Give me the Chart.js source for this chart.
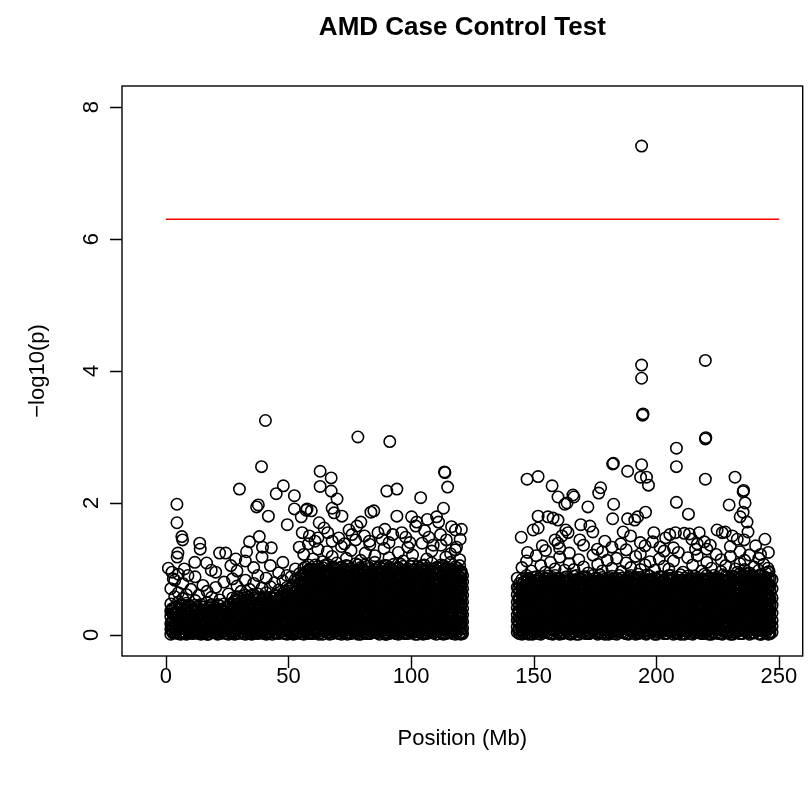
<!DOCTYPE html>
<html>
<head>
<meta charset="utf-8">
<script src="https://cdn.jsdelivr.net/npm/chart.js@4.4.0/dist/chart.umd.min.js"></script>
<style>
html, body { margin: 0; padding: 0; background: #fff; }
</style>
</head>
<body>
<canvas id="gwas" width="810" height="786"></canvas>
<script>
const chartTitle = "AMD Case Control Test";
const xTitle = "Position (Mb)";
const yTitle = "\u2212log10(p)";
const xTicks = [0, 50, 100, 150, 200, 250];
const yTicks = [0, 2, 4, 6, 8];
// genome-wide threshold, drawn from 0 to 250 Mb
const threshold = 6.3;
const thresholdSpan = [0, 250];

// [position Mb, -log10(p) of the SNPs around it]
const pArmStart = [
  [2.0,[.01,.09,.17,.28,.36,.47,.7]],
  [3.6,[.04,.12,.22,.3,.41,.58,.83]],
  [5.1,[.02,.08,.19,.26,.39,.5,.64,.92]],
  [6.9,[.05,.13,.21,.33,.44,.55,.78]],
  [8.4,[.01,.1,.18,.29,.37,.48,.61]],
  [10.2,[.03,.11,.24,.32,.43,.69]],
  [11.9,[.06,.14,.2,.35,.45,.52,.88]],
  [13.4,[.02,.09,.17,.27,.4,.6]],
  [15.1,[.04,.12,.23,.31,.42,.75]],
  [16.8,[.01,.1,.19,.3,.38,.49,.66]],
  [18.6,[.05,.15,.22,.34,.46,.57]],
  [20.3,[.03,.08,.18,.26,.41,.72,.95]],
  [22.0,[.02,.11,.2,.33,.44,.53]],
  [23.7,[.06,.13,.25,.36,.47,.8]],
  [25.5,[.01,.09,.17,.29,.4,.62]],
  [27.2,[.04,.12,.21,.32,.43,.56,.85]],
  [29.0,[.02,.1,.19,.27,.38,.47,.58,.74,.97]],
  [30.7,[.05,.13,.22,.31,.42,.51,.66]],
  [32.4,[.01,.09,.18,.29,.36,.48,.6,.83,1.12]],
  [34.1,[.03,.12,.2,.3,.4,.53,.69]],
  [35.8,[.06,.14,.24,.33,.44,.56,.78,1.02]],
  [37.5,[.02,.08,.17,.26,.37,.49,.62,.9]],
  [39.2,[.04,.11,.21,.32,.41,.52,.71,1.18]],
  [40.9,[.01,.1,.19,.28,.39,.5,.64,.86]],
  [42.6,[.05,.15,.23,.34,.45,.57,.73,1.05]],
  [44.3,[.03,.09,.18,.27,.38,.48,.6,.79]],
  [46.0,[.02,.12,.22,.31,.42,.54,.68,.94]],
  [47.7,[.06,.14,.2,.3,.4,.51,.63,.82,1.1]],
  [49.4,[.01,.08,.17,.29,.37,.47,.59,.72,.9]],
  [51.1,[.04,.11,.21,.33,.43,.55,.67,.88]],
  [52.8,[.02,.1,.19,.26,.36,.46,.58,.7,.84,1.0]],
  [54.5,[.05,.13,.24,.32,.41,.52,.64,.77,.93]]
];

const pArmFill = [
  [2.8,[.03,.12,.21,.32,.4]],
  [4.4,[.06,.15,.25,.34,.43]],
  [6.0,[.01,.11,.2,.29,.41]],
  [7.7,[.03,.09,.16,.25,.37]],
  [9.3,[.05,.14,.22,.34,.45]],
  [11.0,[.02,.07,.17,.28,.39]],
  [12.6,[.04,.11,.24,.31,.42]],
  [14.3,[.01,.06,.14,.23,.35,.46]],
  [15.9,[.03,.08,.18,.27,.36]],
  [17.7,[.02,.13,.24,.33,.43]],
  [19.4,[.06,.11,.2,.29,.38]],
  [21.1,[.01,.05,.14,.23,.31,.46]],
  [22.8,[.04,.08,.16,.27,.39]],
  [24.6,[.02,.1,.21,.32,.42]],
  [26.3,[.05,.14,.24,.35,.47]],
  [28.1,[.01,.07,.16,.24,.34,.43,.52]],
  [29.8,[.03,.09,.17,.26,.36,.47,.55]],
  [31.5,[.02,.11,.16,.25,.34,.45,.56]],
  [33.2,[.05,.14,.24,.33,.44,.57]],
  [35.0,[.01,.09,.18,.28,.37,.48,.6]],
  [36.6,[.03,.11,.21,.3,.41,.53]],
  [38.3,[.06,.13,.23,.34,.44,.56]],
  [40.0,[.02,.07,.15,.24,.35,.46,.58]],
  [41.7,[.04,.12,.21,.31,.42,.53]],
  [43.4,[.01,.08,.14,.24,.33,.44,.55]],
  [45.2,[.03,.1,.17,.26,.37,.48,.59]],
  [46.8,[.05,.09,.18,.27,.36,.46,.57]],
  [48.5,[.02,.12,.21,.33,.43,.54,.66]],
  [50.2,[.06,.14,.25,.35,.45,.58,.7]],
  [52.0,[.01,.07,.15,.23,.31,.41,.52,.63,.76]],
  [53.7,[.03,.09,.18,.28,.38,.49,.6,.71,.82]],
  [55.3,[.02,.11,.2,.3,.4,.5,.6,.7,.8,.9]]
];

const pArmExtra = [
  [2.4,[.06,.2,.39]],[4.0,[.03,.17,.33]],[5.6,[.09,.24,.45]],[7.3,[.02,.19,.31]],
  [8.9,[.07,.23,.4]],[10.6,[.04,.16,.36]],[12.3,[.1,.27,.38]],[13.9,[.03,.2,.33]],
  [15.6,[.08,.16,.37]],[17.3,[.01,.22,.41]],[19.0,[.09,.25,.33]],[20.7,[.04,.19,.36]],
  [22.4,[.07,.24,.39]],[24.1,[.03,.15,.35]],[25.9,[.1,.21,.3]],[27.6,[.05,.18,.38,.5]],
  [29.4,[.08,.23,.31,.52]],[31.1,[.04,.19,.38,.47]],[32.8,[.07,.14,.35,.53]],[34.5,[.02,.25,.34,.5]],
  [36.2,[.09,.18,.39,.6]],[37.9,[.04,.21,.3,.45]],[39.6,[.07,.16,.37,.55]],[41.3,[.02,.24,.33,.47]],
  [43.0,[.1,.19,.4,.51]],[44.7,[.05,.14,.33,.56]],[46.4,[.08,.25,.35,.5]],[48.1,[.03,.17,.38,.6]],
  [49.8,[.07,.21,.31,.53]],[51.5,[.02,.16,.38,.49,.74]],[53.2,[.09,.22,.34,.55,.66]]
];

const armEnd = [
  [56.2,[.01,.08,.15,.23,.3,.38,.45,.53,.61,.68,.76,.84,.92,1.01,1.22]],
  [58.1,[.03,.11,.18,.26,.34,.41,.49,.56,.64,.72,.8,.88,.97,1.06,1.38]],
  [60.0,[.02,.07,.14,.21,.29,.37,.44,.52,.59,.67,.75,.83,.9,.99,1.15]],
  [62.0,[.05,.12,.2,.27,.35,.43,.5,.58,.66,.73,.81,.89,.96,1.04,1.3,1.47]],
  [63.9,[.01,.09,.16,.24,.31,.39,.47,.54,.62,.7,.77,.85,.93,1.02,1.11]],
  [65.8,[.04,.1,.19,.25,.33,.4,.48,.57,.63,.71,.79,.86,.95,1.07,1.26]],
  [67.8,[.02,.08,.15,.22,.3,.38,.46,.53,.6,.69,.76,.84,.91,1.0,1.19,1.42]],
  [69.7,[.06,.13,.2,.28,.36,.42,.51,.59,.65,.74,.82,.9,.98,1.09]],
  [71.6,[.01,.07,.17,.24,.32,.4,.47,.55,.62,.7,.78,.85,.94,1.03,1.34]],
  [73.6,[.03,.11,.18,.26,.34,.41,.49,.57,.64,.72,.8,.87,.96,1.05,1.16]],
  [75.5,[.02,.09,.14,.23,.29,.37,.45,.52,.6,.67,.75,.83,.92,1.0,1.28]],
  [77.4,[.05,.12,.21,.27,.35,.43,.5,.58,.66,.73,.81,.89,.97,1.08,1.44]],
  [79.4,[.01,.08,.16,.24,.31,.39,.46,.54,.61,.69,.77,.86,.93,1.02,1.13]],
  [81.3,[.04,.1,.19,.25,.33,.42,.48,.56,.63,.71,.79,.88,.95,1.06,1.24]],
  [83.2,[.02,.07,.15,.22,.3,.38,.45,.53,.6,.68,.76,.84,.91,1.01,1.37]],
  [85.2,[.06,.13,.2,.28,.36,.44,.51,.59,.67,.74,.82,.9,.99,1.1,1.2]],
  [87.1,[.01,.09,.17,.23,.32,.4,.47,.55,.62,.7,.78,.85,.94,1.03]],
  [89.0,[.03,.11,.18,.26,.34,.41,.49,.57,.64,.72,.8,.87,.96,1.05,1.31]],
  [91.0,[.02,.08,.14,.21,.29,.37,.44,.52,.59,.67,.75,.83,.9,.99,1.17,1.4]],
  [92.9,[.05,.12,.2,.27,.35,.43,.5,.58,.66,.73,.81,.89,.97,1.07]],
  [94.8,[.01,.07,.16,.24,.31,.39,.47,.54,.62,.7,.77,.85,.93,1.02,1.25]],
  [96.8,[.04,.1,.19,.25,.33,.4,.48,.56,.63,.71,.79,.86,.95,1.04,1.12]],
  [98.7,[.02,.09,.15,.22,.3,.38,.46,.53,.6,.69,.76,.84,.91,1.0,1.33]],
  [100.6,[.06,.13,.21,.28,.36,.42,.51,.59,.65,.74,.82,.9,.98,1.08,1.21]],
  [102.6,[.01,.08,.17,.24,.32,.4,.47,.55,.62,.7,.78,.85,.94,1.03]],
  [104.5,[.03,.11,.18,.26,.34,.41,.49,.57,.64,.72,.8,.87,.96,1.05,1.39]],
  [106.4,[.02,.07,.14,.23,.29,.37,.45,.52,.6,.67,.75,.83,.92,1.01,1.15]],
  [108.4,[.05,.12,.2,.27,.35,.43,.5,.58,.66,.73,.81,.89,.97,1.09,1.27]],
  [110.3,[.01,.09,.16,.24,.31,.39,.46,.54,.61,.69,.77,.86,.93,1.02]],
  [112.2,[.04,.1,.19,.25,.33,.42,.48,.56,.63,.71,.79,.88,.95,1.06,1.36]],
  [114.2,[.02,.08,.15,.22,.3,.38,.45,.53,.6,.68,.76,.84,.91,1.0,1.18]],
  [116.1,[.06,.13,.2,.28,.36,.44,.51,.59,.67,.74,.82,.9,.99,1.1,1.23]],
  [118.0,[.01,.07,.17,.23,.32,.4,.47,.55,.62,.7,.78,.85,.94,1.03,1.29]],
  [119.8,[.03,.11,.18,.26,.34,.41,.49,.57,.64,.72,.8,.87,.96,1.05,1.14]],
  [121.0,[.02,.1,.2,.3,.4,.5,.6,.7,.8,.9]]
];

const armEndFill = [
  [57.1,[.04,.11,.19,.26,.34,.42,.49,.57,.65,.72,.8,.88,.95,1.03]],
  [59.0,[.02,.12,.21,.28,.36,.44,.51,.6,.67,.75,.83,.9,.98]],
  [61.0,[.05,.1,.18,.25,.33,.41,.48,.56,.64,.71,.79,.87,.94,1.06]],
  [62.9,[.03,.14,.22,.3,.37,.45,.53,.61,.69,.77,.84,.92,1.0]],
  [64.8,[.06,.12,.2,.27,.35,.43,.5,.59,.66,.74,.81,.89,.97,1.05]],
  [66.8,[.01,.11,.17,.26,.34,.41,.49,.56,.65,.72,.8,.88,.95]],
  [68.7,[.04,.1,.19,.24,.32,.4,.48,.55,.63,.71,.79,.86,.94,1.02]],
  [70.6,[.02,.12,.22,.29,.37,.46,.53,.61,.68,.76,.84,.92,1.01]],
  [72.6,[.05,.14,.2,.27,.36,.44,.52,.6,.67,.75,.83,.91,.99]],
  [74.5,[.03,.11,.19,.25,.33,.41,.49,.56,.64,.7,.78,.86,.94,1.04]],
  [76.4,[.06,.1,.17,.24,.32,.4,.48,.55,.62,.71,.79,.87,.96]],
  [78.4,[.01,.12,.2,.28,.37,.45,.52,.6,.68,.76,.83,.91,.98,1.06]],
  [80.3,[.04,.13,.21,.29,.36,.43,.51,.59,.67,.74,.82,.9,1.0]],
  [82.2,[.02,.11,.18,.26,.34,.42,.5,.57,.65,.73,.8,.87,.95,1.04]],
  [84.2,[.05,.1,.17,.25,.33,.41,.49,.56,.64,.72,.79,.86,.94]],
  [86.1,[.03,.12,.21,.28,.36,.44,.52,.6,.68,.76,.84,.92,1.01]],
  [88.0,[.06,.14,.22,.3,.38,.45,.53,.61,.69,.77,.85,.93,1.0]],
  [90.0,[.01,.11,.19,.26,.34,.42,.5,.57,.65,.73,.81,.88,.96,1.05]],
  [91.9,[.04,.1,.18,.25,.33,.41,.49,.56,.63,.71,.79,.87,.95]],
  [93.8,[.02,.12,.21,.29,.37,.45,.52,.6,.68,.76,.84,.92,1.0]],
  [95.8,[.05,.14,.22,.3,.38,.46,.53,.61,.69,.77,.84,.91,.99,1.07]],
  [97.7,[.03,.11,.19,.27,.35,.43,.51,.58,.66,.74,.82,.89,.97]],
  [99.6,[.06,.1,.18,.26,.34,.42,.5,.57,.64,.72,.8,.88,.96,1.04]],
  [101.6,[.01,.12,.2,.28,.36,.44,.52,.6,.68,.75,.83,.91,.99]],
  [103.5,[.04,.13,.21,.29,.37,.45,.53,.61,.69,.77,.85,.93,1.01]],
  [105.4,[.02,.11,.19,.26,.34,.42,.5,.58,.65,.73,.81,.89,.97,1.06]],
  [107.4,[.05,.1,.18,.25,.33,.41,.49,.57,.64,.71,.79,.87,.95]],
  [109.3,[.03,.12,.21,.29,.37,.45,.52,.6,.68,.76,.84,.92,1.0]],
  [111.2,[.06,.14,.22,.3,.38,.46,.54,.62,.7,.78,.85,.93,1.02]],
  [113.2,[.01,.11,.19,.27,.35,.43,.51,.59,.66,.74,.82,.9,.98,1.05]],
  [115.1,[.04,.1,.18,.26,.34,.42,.5,.58,.65,.73,.81,.89,.97]],
  [117.0,[.02,.12,.2,.28,.36,.44,.52,.6,.68,.76,.84,.92,1.0]],
  [118.9,[.05,.13,.21,.29,.37,.45,.53,.61,.69,.77,.85,.93,1.01]],
  [120.5,[.03,.09,.17,.25,.35,.46,.55,.66,.76,.86,.96]]
];

const armEndExtra = [
  [56.7,[.05,.18,.27,.46,.6,.79,.93]],
  [58.6,[.02,.14,.33,.47,.63,.74,1.0]],
  [60.5,[.09,.24,.39,.5,.7,.86]],
  [62.4,[.01,.16,.31,.55,.62,.8,.98]],
  [64.3,[.07,.21,.29,.44,.68,.83]],
  [66.3,[.04,.13,.36,.51,.58,.77,.92]],
  [68.2,[.1,.23,.34,.49,.66,.87,1.03]],
  [70.1,[.03,.17,.26,.43,.6,.73,.9]],
  [72.1,[.08,.2,.37,.54,.65,.82]],
  [74.0,[.01,.15,.3,.46,.61,.78,.97]],
  [75.9,[.06,.22,.35,.48,.69,.8]],
  [77.9,[.03,.14,.28,.41,.57,.72,.94]],
  [79.8,[.09,.19,.33,.52,.64,.85,1.0]],
  [81.7,[.02,.16,.27,.45,.59,.76]],
  [83.7,[.07,.23,.38,.5,.67,.81,.96]],
  [85.6,[.04,.13,.31,.42,.6,.75,.88]],
  [87.5,[.1,.2,.36,.55,.71,.84]],
  [89.5,[.01,.17,.29,.47,.62,.79,.93]],
  [91.4,[.06,.24,.33,.51,.66,.78,1.02]],
  [93.3,[.03,.15,.27,.44,.58,.73,.89]],
  [95.3,[.08,.21,.39,.49,.69,.83]],
  [97.2,[.02,.14,.32,.46,.61,.77,.97]],
  [99.1,[.07,.19,.28,.53,.64,.8,.91]],
  [101.1,[.04,.16,.35,.48,.7,.86]],
  [103.0,[.09,.22,.3,.43,.59,.74,.95]],
  [104.9,[.01,.13,.37,.52,.65,.82,.99]],
  [106.9,[.06,.2,.33,.47,.6,.76,.9]],
  [108.8,[.03,.18,.26,.41,.68,.79]],
  [110.7,[.1,.23,.38,.54,.63,.85,.97]],
  [112.7,[.02,.15,.29,.45,.57,.72,.88]],
  [114.6,[.07,.21,.34,.5,.66,.81,1.01]],
  [116.5,[.04,.17,.3,.43,.61,.78,.92]],
  [118.5,[.08,.14,.36,.52,.69,.84]],
  [120.3,[.01,.19,.27,.45,.58,.74,.93]]
];

const qArm = [
  [143.3,[.04,.12,.22,.3,.41,.5,.61,.72,.86]],
  [145.2,[.01,.08,.15,.23,.3,.38,.45,.53,.61,.68,.76,.84,1.02]],
  [147.1,[.03,.11,.18,.26,.34,.41,.49,.56,.64,.72,.8,.9,1.12]],
  [149.0,[.02,.07,.14,.21,.29,.37,.44,.52,.59,.67,.75,.83,.97]],
  [151.0,[.05,.12,.2,.27,.35,.43,.5,.58,.66,.73,.81,.88,1.2]],
  [152.9,[.01,.09,.16,.24,.31,.39,.47,.54,.62,.7,.77,.85,1.05]],
  [154.8,[.04,.1,.19,.25,.33,.4,.48,.57,.63,.71,.79,.86,.95,1.28]],
  [156.8,[.02,.08,.15,.22,.3,.38,.46,.53,.6,.69,.76,.84,1.1]],
  [158.7,[.06,.13,.2,.28,.36,.42,.51,.59,.65,.74,.82,.9,1.0]],
  [160.6,[.01,.07,.17,.24,.32,.4,.47,.55,.62,.7,.78,.85,1.18,1.31]],
  [162.6,[.03,.11,.18,.26,.34,.41,.49,.57,.64,.72,.8,.87,.98]],
  [164.5,[.02,.09,.14,.23,.29,.37,.45,.52,.6,.67,.75,.83,1.08,1.24]],
  [166.4,[.05,.12,.21,.27,.35,.43,.5,.58,.66,.73,.81,.89,.99]],
  [168.4,[.01,.08,.16,.24,.31,.39,.46,.54,.61,.69,.77,.86,1.14]],
  [170.3,[.04,.1,.19,.25,.33,.42,.48,.56,.63,.71,.79,.88,1.03,1.36]],
  [172.2,[.02,.07,.15,.22,.3,.38,.45,.53,.6,.68,.76,.84,.94]],
  [174.2,[.06,.13,.2,.28,.36,.44,.51,.59,.67,.74,.82,.9,1.21]],
  [176.1,[.01,.09,.17,.23,.32,.4,.47,.55,.62,.7,.78,.85,1.07]],
  [178.0,[.03,.11,.18,.26,.34,.41,.49,.57,.64,.72,.8,.87,.97,1.26]],
  [180.0,[.02,.08,.14,.21,.29,.37,.44,.52,.59,.67,.75,.83,1.13]],
  [181.9,[.05,.12,.2,.27,.35,.43,.5,.58,.66,.73,.81,.89,1.01,1.33]],
  [183.8,[.01,.07,.16,.24,.31,.39,.47,.54,.62,.7,.77,.85,1.16]],
  [185.8,[.04,.1,.19,.25,.33,.4,.48,.56,.63,.71,.79,.86,.96]],
  [187.7,[.02,.09,.15,.22,.3,.38,.46,.53,.6,.69,.76,.84,1.09,1.29]],
  [189.6,[.06,.13,.21,.28,.36,.42,.51,.59,.65,.74,.82,.9,1.02]],
  [191.6,[.01,.08,.17,.24,.32,.4,.47,.55,.62,.7,.78,.85,1.19]],
  [193.5,[.03,.11,.18,.26,.34,.41,.49,.57,.64,.72,.8,.87,.99,1.23,1.4]],
  [195.4,[.02,.07,.14,.23,.29,.37,.45,.52,.6,.67,.75,.83,1.06,1.35]],
  [197.4,[.05,.12,.2,.27,.35,.43,.5,.58,.66,.73,.81,.89,1.11]],
  [199.3,[.01,.09,.16,.24,.31,.39,.46,.54,.61,.69,.77,.86,.98]],
  [201.2,[.04,.1,.19,.25,.33,.42,.48,.56,.63,.71,.79,.88,1.15]],
  [203.2,[.02,.08,.15,.22,.3,.38,.45,.53,.6,.68,.76,.84,1.04,1.27]],
  [205.1,[.06,.13,.2,.28,.36,.44,.51,.59,.67,.74,.82,.9,1.0]],
  [207.0,[.01,.07,.17,.23,.32,.4,.47,.55,.62,.7,.78,.85,1.12,1.32]],
  [209.0,[.03,.11,.18,.26,.34,.41,.49,.57,.64,.72,.8,.87,1.25]],
  [210.9,[.02,.09,.14,.21,.29,.37,.44,.52,.59,.67,.75,.83,.95]],
  [212.8,[.05,.12,.2,.27,.35,.43,.5,.58,.66,.73,.81,.89,1.17]],
  [214.8,[.01,.08,.16,.24,.31,.39,.47,.54,.62,.7,.77,.85,1.06]],
  [216.7,[.04,.1,.19,.25,.33,.4,.48,.56,.63,.71,.79,.86,1.2,1.38]],
  [218.6,[.02,.07,.15,.22,.3,.38,.46,.53,.6,.69,.76,.84,.97]],
  [220.6,[.06,.13,.21,.28,.36,.42,.51,.59,.65,.74,.82,.9,1.1,1.3]],
  [222.5,[.01,.09,.17,.24,.32,.4,.47,.55,.62,.7,.78,.85,1.01]],
  [224.4,[.03,.11,.18,.26,.34,.41,.49,.57,.64,.72,.8,.87,1.22]],
  [226.4,[.02,.08,.14,.23,.29,.37,.45,.52,.6,.67,.75,.83,.96,1.14]],
  [228.3,[.05,.12,.2,.27,.35,.43,.5,.58,.66,.73,.81,.89,1.05]],
  [230.2,[.01,.07,.16,.24,.31,.39,.46,.54,.61,.69,.77,.86,1.19,1.34]],
  [232.2,[.04,.1,.19,.25,.33,.42,.48,.56,.63,.71,.79,.88,1.0]],
  [234.1,[.02,.09,.15,.22,.3,.38,.45,.53,.6,.68,.76,.84,.93,1.08,1.26]],
  [236.0,[.06,.13,.2,.28,.36,.44,.51,.59,.67,.74,.82,.9,.99,1.13]],
  [238.0,[.01,.08,.17,.23,.32,.4,.47,.55,.62,.7,.78,.85,.94,1.21]],
  [239.9,[.03,.11,.18,.26,.34,.41,.49,.57,.64,.72,.8,.87,1.03]],
  [241.8,[.02,.07,.14,.21,.29,.37,.44,.52,.59,.67,.75,.83,.98,1.16]],
  [243.8,[.05,.12,.2,.27,.35,.43,.5,.58,.66,.73,.81,.89,1.07]],
  [245.7,[.01,.09,.16,.24,.31,.39,.46,.54,.61,.69,.77,.86,.95,1.25]],
  [247.2,[.04,.13,.22,.33,.45,.56,.7,.84]]
];

const qArmFill = [
  [144.2,[.02,.09,.17,.26,.35,.45,.55,.66,.78]],
  [146.1,[.05,.11,.19,.27,.34,.42,.5,.57,.65,.73,.8]],
  [148.0,[.01,.12,.22,.3,.37,.45,.53,.61,.69,.77,.86]],
  [150.0,[.04,.1,.17,.24,.32,.4,.48,.55,.63,.71,.79,.87]],
  [151.9,[.02,.13,.23,.31,.39,.46,.54,.62,.7,.78,.85]],
  [153.8,[.06,.12,.2,.28,.36,.44,.51,.59,.67,.75,.82]],
  [155.8,[.03,.11,.17,.26,.35,.43,.5,.58,.65,.74,.81,.89]],
  [157.7,[.01,.1,.19,.25,.33,.41,.49,.56,.64,.72,.8,.87]],
  [159.6,[.04,.12,.22,.3,.38,.46,.54,.62,.7,.78,.86]],
  [161.6,[.02,.14,.21,.28,.37,.44,.52,.6,.68,.76,.83]],
  [163.5,[.05,.1,.18,.26,.33,.42,.5,.57,.65,.73,.8,.88]],
  [165.4,[.03,.12,.2,.29,.36,.44,.52,.6,.68,.76,.84]],
  [167.4,[.01,.11,.19,.27,.35,.43,.51,.58,.66,.74,.82,.9]],
  [169.3,[.06,.13,.21,.28,.37,.45,.53,.61,.69,.77,.85]],
  [171.2,[.02,.1,.18,.26,.34,.42,.5,.58,.65,.73,.81,.88]],
  [173.2,[.04,.11,.17,.24,.32,.41,.49,.56,.64,.72,.8]],
  [175.1,[.03,.12,.22,.3,.38,.46,.54,.62,.7,.78,.86]],
  [177.0,[.05,.14,.21,.29,.37,.45,.52,.6,.68,.76,.83,.91]],
  [179.0,[.01,.1,.19,.27,.35,.43,.51,.59,.67,.75,.82]],
  [180.9,[.04,.11,.18,.26,.33,.4,.48,.56,.64,.72,.8,.87]],
  [182.8,[.02,.13,.22,.29,.37,.45,.53,.61,.69,.77,.85]],
  [184.8,[.06,.12,.2,.28,.36,.44,.52,.59,.67,.75,.83,.9]],
  [186.7,[.03,.11,.19,.26,.34,.42,.5,.57,.65,.73,.81]],
  [188.6,[.01,.1,.17,.25,.33,.41,.49,.57,.64,.72,.8,.88]],
  [190.6,[.05,.12,.22,.3,.38,.46,.54,.62,.7,.78,.86]],
  [192.5,[.02,.14,.21,.29,.37,.44,.52,.6,.68,.76,.84,.92]],
  [194.4,[.04,.1,.18,.27,.35,.43,.51,.59,.66,.74,.82]],
  [196.4,[.03,.11,.2,.28,.36,.44,.52,.6,.68,.76,.84,.91]],
  [198.3,[.06,.13,.19,.26,.34,.42,.5,.58,.65,.73,.81]],
  [200.2,[.01,.12,.22,.3,.38,.46,.53,.61,.69,.77,.85]],
  [202.2,[.04,.1,.17,.25,.33,.41,.49,.57,.64,.72,.8,.88]],
  [204.1,[.02,.11,.21,.29,.37,.45,.53,.61,.69,.77,.85]],
  [206.0,[.05,.14,.2,.28,.36,.44,.52,.6,.67,.75,.83,.9]],
  [208.0,[.03,.12,.19,.26,.34,.42,.5,.58,.66,.74,.82]],
  [209.9,[.01,.1,.18,.27,.35,.43,.51,.59,.67,.75,.83,.91]],
  [211.8,[.06,.11,.22,.3,.38,.46,.54,.62,.7,.78,.86]],
  [213.8,[.02,.13,.21,.29,.37,.44,.52,.6,.68,.76,.84]],
  [215.7,[.04,.12,.19,.27,.35,.43,.51,.58,.66,.74,.82,.89]],
  [217.6,[.03,.1,.17,.25,.33,.41,.49,.57,.65,.73,.81]],
  [219.6,[.05,.11,.2,.28,.36,.44,.52,.6,.68,.76,.84,.92]],
  [221.5,[.01,.14,.22,.3,.38,.46,.54,.62,.7,.78,.86]],
  [223.4,[.04,.12,.18,.26,.34,.42,.5,.58,.66,.74,.82,.9]],
  [225.4,[.02,.11,.21,.29,.37,.45,.53,.61,.69,.77,.85]],
  [227.3,[.06,.1,.19,.27,.35,.43,.51,.59,.67,.75,.83,.91]],
  [229.2,[.03,.13,.2,.28,.36,.44,.52,.6,.68,.76,.84]],
  [231.2,[.01,.12,.17,.25,.33,.41,.49,.57,.65,.73,.81,.89]],
  [233.1,[.05,.11,.22,.3,.38,.46,.54,.62,.7,.78,.86,.95]],
  [235.0,[.02,.1,.18,.26,.34,.42,.5,.58,.66,.74,.82,.9]],
  [237.0,[.04,.14,.21,.29,.37,.45,.53,.61,.69,.77,.85,.93]],
  [238.9,[.03,.11,.19,.27,.35,.43,.51,.59,.67,.75,.83,.91]],
  [240.8,[.06,.12,.2,.28,.36,.44,.52,.6,.68,.76,.84]],
  [242.8,[.01,.1,.17,.25,.33,.41,.49,.57,.65,.73,.81,.9]],
  [244.7,[.04,.13,.22,.3,.38,.46,.54,.62,.7,.78,.86,.94]],
  [246.4,[.02,.11,.19,.27,.36,.45,.55,.65,.75,.86]]
];

const qArmExtra = [
  [143.8,[.07,.19,.36,.55,.7]],
  [145.7,[.03,.16,.28,.44,.6,.79]],
  [147.6,[.09,.22,.33,.49,.65,.84]],
  [149.5,[.01,.14,.31,.46,.58,.75]],
  [151.5,[.06,.2,.37,.52,.68,.82]],
  [153.4,[.04,.17,.26,.43,.62,.77]],
  [155.3,[.1,.23,.35,.5,.66,.85]],
  [157.3,[.02,.15,.29,.47,.59,.73]],
  [159.2,[.08,.19,.33,.53,.7,.8]],
  [161.1,[.03,.13,.38,.45,.63,.78]],
  [163.1,[.07,.24,.3,.48,.6,.84]],
  [165.0,[.01,.16,.27,.42,.67,.76]],
  [166.9,[.09,.2,.36,.54,.64,.82]],
  [168.9,[.04,.14,.32,.46,.58,.79]],
  [170.8,[.06,.22,.29,.51,.69,.86]],
  [172.7,[.02,.17,.34,.44,.61,.74]],
  [174.7,[.1,.19,.37,.49,.65,.81]],
  [176.6,[.03,.15,.26,.47,.62,.78]],
  [178.5,[.08,.23,.31,.53,.7,.84]],
  [180.5,[.01,.13,.35,.45,.59,.77]],
  [182.4,[.07,.2,.28,.5,.66,.8]],
  [184.3,[.04,.16,.33,.43,.63,.85]],
  [186.3,[.09,.24,.38,.52,.6,.76]],
  [188.2,[.02,.14,.3,.46,.68,.82]],
  [190.1,[.06,.19,.27,.48,.64,.79]],
  [192.1,[.03,.22,.36,.55,.61,.87]],
  [194.0,[.1,.17,.32,.44,.67,.75]],
  [195.9,[.01,.15,.29,.51,.58,.81]],
  [197.9,[.08,.21,.35,.47,.69,.84]],
  [199.8,[.04,.13,.26,.42,.62,.78]],
  [201.7,[.07,.24,.37,.53,.65,.8]],
  [203.7,[.02,.16,.31,.49,.6,.76]],
  [205.6,[.09,.2,.28,.45,.66,.86]],
  [207.5,[.03,.14,.34,.54,.63,.79]],
  [209.5,[.06,.22,.3,.46,.7,.82]],
  [211.4,[.01,.17,.36,.5,.59,.77]],
  [213.3,[.1,.19,.27,.43,.64,.84]],
  [215.3,[.04,.15,.33,.52,.68,.8]],
  [217.2,[.07,.23,.38,.47,.61,.75]],
  [219.1,[.02,.13,.29,.55,.66,.85]],
  [221.1,[.08,.2,.35,.44,.62,.81]],
  [223.0,[.03,.16,.26,.48,.69,.78]],
  [224.9,[.09,.24,.32,.51,.6,.83]],
  [226.9,[.01,.14,.37,.45,.65,.76]],
  [228.8,[.06,.18,.3,.53,.67,.87]],
  [230.7,[.04,.22,.34,.47,.58,.8]],
  [232.7,[.1,.15,.28,.42,.63,.79]],
  [234.6,[.02,.19,.36,.54,.7,.88]],
  [236.5,[.07,.23,.31,.49,.61,.84]],
  [238.5,[.03,.16,.27,.46,.66,.8]],
  [240.4,[.08,.2,.38,.52,.64,.82]],
  [242.3,[.01,.13,.33,.44,.68,.91]],
  [244.2,[.06,.24,.29,.5,.62,.86]],
  [246.0,[.04,.17,.35,.55,.73,.96]]
];

// single SNPs standing out of the bulk, [position, -log10(p)]
const leftHits = [
  [1.0,1.01],[4.5,1.98],[4.5,1.70],[6.5,1.49],[6.8,1.44],[4.9,1.24],[4.6,1.18],[13.8,1.39],
  [14.0,1.30],[21.9,1.24],[24.4,1.24],[11.8,1.10],[16.6,1.09],[30.0,2.21],[40.6,3.25],[39.0,2.55],
  [47.9,2.26],[45.0,2.14],[52.4,2.11],[37.0,1.94],[37.7,1.97],[41.8,1.80],[52.4,1.91],[49.5,1.67],
  [57.6,1.91],[55.2,1.79],[38.1,1.49],[34.1,1.41],[43.0,1.32],[39.4,1.33],[32.9,1.26],[55.6,1.55],
  [54.4,1.33],[2.5,.95],[3.0,.85],[7.5,1.0],[9.0,.9],[18.5,.98],[26.5,1.05],[28.5,1.15],
  [78.3,3.00],[91.3,2.93],[62.9,2.48],[67.4,2.38],[62.9,2.25],[67.4,2.18],[69.8,2.06],[113.6,2.47],
  [113.8,2.46],[114.9,2.24],[90.1,2.18],[94.2,2.21],[103.9,2.08],[113.2,1.92],[67.8,1.92],[68.6,1.85],
  [71.8,1.80],[94.2,1.80],[57.2,1.89],[59.3,1.88],[83.6,1.86],[84.8,1.88],[100.2,1.79],[102.3,1.71],
  [101.9,1.65],[110.4,1.79],[111.2,1.71],[116.5,1.64],[118.1,1.59],[79.5,1.71],[77.9,1.65],[89.3,1.60],
  [62.5,1.70],[64.5,1.62],[114.4,1.44],[118.5,1.33],[74.7,1.59],[75.9,1.52],[96.2,1.55],[97.8,1.48],
  [58.5,1.50],[60.8,1.42],[66.0,1.55],[70.5,1.47],[72.8,1.38],[81.0,1.50],[83.0,1.42],[86.5,1.55],
  [88.2,1.45],[92.5,1.52],[99.5,1.40],[105.5,1.58],[107.2,1.48],[109.0,1.36],[112.0,1.52],[120.0,1.45],
  [120.5,1.60],[106.6,1.75]
];

const rightHits = [
  [194.0,7.41],[220.0,4.16],[194.0,4.09],[194.0,3.89],[194.4,3.33],[194.6,3.35],[182.2,2.59],[182.5,2.60],
  [194.0,2.58],[188.3,2.48],[193.6,2.39],[196.0,2.39],[196.8,2.27],[147.3,2.36],[151.8,2.40],[157.5,2.26],
  [159.9,2.09],[166.0,2.12],[166.4,2.09],[177.3,2.23],[176.5,2.15],[162.7,1.98],[163.6,2.00],[172.1,1.94],
  [182.6,1.98],[182.2,1.76],[195.6,1.86],[188.3,1.76],[191.2,1.74],[192.4,1.79],[151.8,1.80],[155.8,1.79],
  [157.9,1.77],[159.9,1.74],[149.8,1.59],[151.8,1.62],[144.9,1.48],[163.1,1.59],[164.0,1.55],[169.2,1.67],
  [172.9,1.65],[174.1,1.56],[158.7,1.44],[159.9,1.39],[168.8,1.44],
  [220.0,2.97],[220.2,2.99],[208.2,2.83],[208.2,2.55],[220.0,2.36],[232.1,2.39],[235.4,2.17],[235.6,2.19],
  [236.2,2.00],[208.2,2.01],[213.1,1.83],[229.7,1.97],[234.2,1.79],[235.4,1.86],[237.0,1.71],[237.4,1.56],
  [244.3,1.45],[245.5,1.01],[224.8,1.59],[226.9,1.55],[228.1,1.56],[207.8,1.55],[211.4,1.54],[213.5,1.53],
  [219.6,1.41],[222.0,1.36],[233.0,1.45],[235.8,1.44],
  [179.0,1.42],[185.5,1.38],[198.5,1.41],[201.5,1.33],[203.8,1.47],[216.0,1.30],[240.5,1.35],[242.5,1.22],
  [189.5,1.50],[176.0,1.30],[153.5,1.35],[147.5,1.25],[161.5,1.50],[186.5,1.56],[199.0,1.55],[205.5,1.52],
  [214.5,1.45],[217.5,1.55],[231.0,1.50]
];

const snps = [];
[pArmStart, pArmFill, pArmExtra, armEnd, armEndFill, armEndExtra, qArm, qArmFill, qArmExtra].forEach(block => {
  block.forEach(([pos, vals]) => vals.forEach(v => snps.push({x: pos, y: v})));
});
leftHits.concat(rightHits).forEach(([pos, v]) => snps.push({x: pos, y: v}));

const FONT = "'Liberation Sans', Arial, Helvetica, sans-serif";

// base-R look: white page, box, outside ticks, rotated y labels
const rFrame = {
  id: "rFrame",
  beforeDraw(chart) {
    const ctx = chart.ctx;
    ctx.save();
    ctx.fillStyle = "#fff";
    ctx.fillRect(0, 0, chart.width, chart.height);
    ctx.restore();
  },
  afterDraw(chart) {
    const ctx = chart.ctx;
    const a = chart.chartArea;
    const xs = chart.scales.x, ys = chart.scales.y;
    ctx.save();
    ctx.strokeStyle = "#000";
    ctx.fillStyle = "#000";
    ctx.lineWidth = 1.4;
    ctx.strokeRect(a.left, a.top, a.right - a.left, a.bottom - a.top);

    ctx.font = "22px " + FONT;
    ctx.textAlign = "center";
    ctx.textBaseline = "middle";
    ctx.beginPath();
    xTicks.forEach(t => {
      const px = Math.round(xs.getPixelForValue(t)) + 0.5;
      ctx.moveTo(px, a.bottom);
      ctx.lineTo(px, a.bottom + 12);
    });
    yTicks.forEach(t => {
      const py = Math.round(ys.getPixelForValue(t)) + 0.5;
      ctx.moveTo(a.left, py);
      ctx.lineTo(a.left - 12, py);
    });
    ctx.stroke();
    xTicks.forEach(t => ctx.fillText(String(t), xs.getPixelForValue(t), a.bottom + 21));
    yTicks.forEach(t => {
      ctx.save();
      ctx.translate(a.left - 30, ys.getPixelForValue(t));
      ctx.rotate(-Math.PI / 2);
      ctx.fillText(String(t), 0, 0);
      ctx.restore();
    });

    const cx = (a.left + a.right) / 2;
    ctx.fillText(xTitle, cx, 739);
    ctx.save();
    ctx.translate(38, (a.top + a.bottom) / 2);
    ctx.rotate(-Math.PI / 2);
    ctx.fillText(yTitle, 0, 0);
    ctx.restore();

    ctx.font = "bold 26px " + FONT;
    ctx.fillText(chartTitle, cx, 28);
    ctx.restore();
  }
};

new Chart(document.getElementById("gwas"), {
  type: "scatter",
  plugins: [rFrame],
  data: {
    datasets: [
      {
        data: snps,
        pointStyle: "circle",
        pointRadius: 5.7,
        borderWidth: 1.6,
        borderColor: "#000",
        backgroundColor: "rgba(0,0,0,0)"
      },
      {
        data: thresholdSpan.map(x => ({x: x, y: threshold})),
        showLine: true,
        borderColor: "#ff0000",
        borderWidth: 1.5,
        pointRadius: 0
      }
    ]
  },
  options: {
    responsive: false,
    devicePixelRatio: 1,
    animation: false,
    events: [],
    layout: { padding: { left: 122, right: 4, top: 86, bottom: 130 } },
    plugins: { legend: { display: false }, tooltip: { enabled: false } },
    scales: {
      x: { type: "linear", min: -17.9, max: 259.7, display: false },
      y: { type: "linear", min: -0.32, max: 8.32, display: false }
    }
  }
});
</script>
</body>
</html>
